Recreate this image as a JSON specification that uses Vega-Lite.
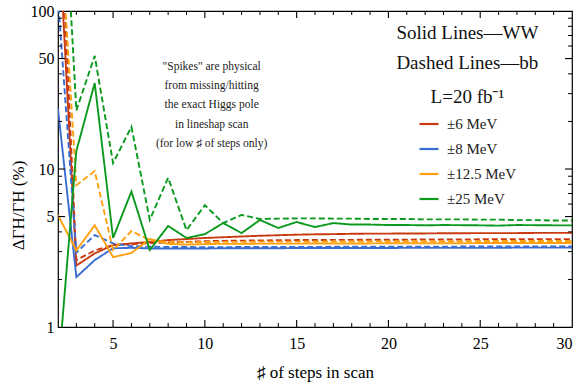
{
  "$schema": "https://vega.github.io/schema/vega-lite/v6.json",
  "width": 514,
  "height": 316,
  "autosize": {"type": "none"},
  "padding": {"left": 58, "top": 11, "right": 9, "bottom": 57},
  "background": "white",
  "config": {
    "view": {"stroke": "black", "strokeWidth": 1.2},
    "font": "Liberation Serif",
    "axis": {"domain": false, "ticks": false, "labelFont": "Liberation Serif", "titleFont": "Liberation Serif", "labelColor": "black", "titleColor": "black", "labelFontSize": 16, "titleFontSize": 17, "titleFontWeight": "normal", "grid": false}
  },
  "datasets": {
    "lines": [
      {"s":2,"p":400,"w":"±6 MeV","c":"WW"},{"s":3,"p":2.45,"w":"±6 MeV","c":"WW"},{"s":4,"p":2.92,"w":"±6 MeV","c":"WW"},{"s":5,"p":3.3,"w":"±6 MeV","c":"WW"},{"s":6,"p":3.38,"w":"±6 MeV","c":"WW"},{"s":7,"p":3.45,"w":"±6 MeV","c":"WW"},{"s":8,"p":3.55,"w":"±6 MeV","c":"WW"},{"s":9,"p":3.6,"w":"±6 MeV","c":"WW"},{"s":10,"p":3.66,"w":"±6 MeV","c":"WW"},{"s":11,"p":3.7,"w":"±6 MeV","c":"WW"},{"s":12,"p":3.74,"w":"±6 MeV","c":"WW"},{"s":13,"p":3.78,"w":"±6 MeV","c":"WW"},{"s":14,"p":3.81,"w":"±6 MeV","c":"WW"},{"s":15,"p":3.84,"w":"±6 MeV","c":"WW"},{"s":16,"p":3.86,"w":"±6 MeV","c":"WW"},{"s":17,"p":3.87,"w":"±6 MeV","c":"WW"},{"s":18,"p":3.89,"w":"±6 MeV","c":"WW"},{"s":19,"p":3.9,"w":"±6 MeV","c":"WW"},{"s":20,"p":3.9,"w":"±6 MeV","c":"WW"},{"s":21,"p":3.91,"w":"±6 MeV","c":"WW"},{"s":22,"p":3.91,"w":"±6 MeV","c":"WW"},{"s":23,"p":3.92,"w":"±6 MeV","c":"WW"},{"s":24,"p":3.92,"w":"±6 MeV","c":"WW"},{"s":25,"p":3.93,"w":"±6 MeV","c":"WW"},{"s":26,"p":3.93,"w":"±6 MeV","c":"WW"},{"s":27,"p":3.93,"w":"±6 MeV","c":"WW"},{"s":28,"p":3.94,"w":"±6 MeV","c":"WW"},{"s":29,"p":3.94,"w":"±6 MeV","c":"WW"},{"s":30,"p":3.94,"w":"±6 MeV","c":"WW"},

      {"s":2,"p":900,"w":"±6 MeV","c":"bb"},{"s":3,"p":2.65,"w":"±6 MeV","c":"bb"},{"s":4,"p":3.05,"w":"±6 MeV","c":"bb"},{"s":5,"p":3.3,"w":"±6 MeV","c":"bb"},{"s":6,"p":3.35,"w":"±6 MeV","c":"bb"},{"s":7,"p":3.4,"w":"±6 MeV","c":"bb"},{"s":8,"p":3.43,"w":"±6 MeV","c":"bb"},{"s":9,"p":3.46,"w":"±6 MeV","c":"bb"},{"s":10,"p":3.49,"w":"±6 MeV","c":"bb"},{"s":11,"p":3.51,"w":"±6 MeV","c":"bb"},{"s":12,"p":3.52,"w":"±6 MeV","c":"bb"},{"s":13,"p":3.53,"w":"±6 MeV","c":"bb"},{"s":14,"p":3.54,"w":"±6 MeV","c":"bb"},{"s":15,"p":3.55,"w":"±6 MeV","c":"bb"},{"s":16,"p":3.55,"w":"±6 MeV","c":"bb"},{"s":17,"p":3.56,"w":"±6 MeV","c":"bb"},{"s":18,"p":3.56,"w":"±6 MeV","c":"bb"},{"s":19,"p":3.57,"w":"±6 MeV","c":"bb"},{"s":20,"p":3.57,"w":"±6 MeV","c":"bb"},{"s":21,"p":3.57,"w":"±6 MeV","c":"bb"},{"s":22,"p":3.58,"w":"±6 MeV","c":"bb"},{"s":23,"p":3.58,"w":"±6 MeV","c":"bb"},{"s":24,"p":3.58,"w":"±6 MeV","c":"bb"},{"s":25,"p":3.59,"w":"±6 MeV","c":"bb"},{"s":26,"p":3.59,"w":"±6 MeV","c":"bb"},{"s":27,"p":3.59,"w":"±6 MeV","c":"bb"},{"s":28,"p":3.6,"w":"±6 MeV","c":"bb"},{"s":29,"p":3.6,"w":"±6 MeV","c":"bb"},{"s":30,"p":3.6,"w":"±6 MeV","c":"bb"},

      {"s":2,"p":24,"w":"±8 MeV","c":"WW"},{"s":3,"p":2.07,"w":"±8 MeV","c":"WW"},{"s":4,"p":2.65,"w":"±8 MeV","c":"WW"},{"s":5,"p":3.15,"w":"±8 MeV","c":"WW"},{"s":6,"p":3.17,"w":"±8 MeV","c":"WW"},{"s":7,"p":3.14,"w":"±8 MeV","c":"WW"},{"s":8,"p":3.14,"w":"±8 MeV","c":"WW"},{"s":9,"p":3.14,"w":"±8 MeV","c":"WW"},{"s":10,"p":3.14,"w":"±8 MeV","c":"WW"},{"s":11,"p":3.15,"w":"±8 MeV","c":"WW"},{"s":12,"p":3.15,"w":"±8 MeV","c":"WW"},{"s":13,"p":3.15,"w":"±8 MeV","c":"WW"},{"s":14,"p":3.15,"w":"±8 MeV","c":"WW"},{"s":15,"p":3.16,"w":"±8 MeV","c":"WW"},{"s":16,"p":3.16,"w":"±8 MeV","c":"WW"},{"s":17,"p":3.16,"w":"±8 MeV","c":"WW"},{"s":18,"p":3.16,"w":"±8 MeV","c":"WW"},{"s":19,"p":3.16,"w":"±8 MeV","c":"WW"},{"s":20,"p":3.16,"w":"±8 MeV","c":"WW"},{"s":21,"p":3.17,"w":"±8 MeV","c":"WW"},{"s":22,"p":3.17,"w":"±8 MeV","c":"WW"},{"s":23,"p":3.17,"w":"±8 MeV","c":"WW"},{"s":24,"p":3.17,"w":"±8 MeV","c":"WW"},{"s":25,"p":3.17,"w":"±8 MeV","c":"WW"},{"s":26,"p":3.17,"w":"±8 MeV","c":"WW"},{"s":27,"p":3.18,"w":"±8 MeV","c":"WW"},{"s":28,"p":3.18,"w":"±8 MeV","c":"WW"},{"s":29,"p":3.18,"w":"±8 MeV","c":"WW"},{"s":30,"p":3.18,"w":"±8 MeV","c":"WW"},

      {"s":2,"p":120,"w":"±8 MeV","c":"bb"},{"s":3,"p":2.95,"w":"±8 MeV","c":"bb"},{"s":4,"p":3.82,"w":"±8 MeV","c":"bb"},{"s":5,"p":3.38,"w":"±8 MeV","c":"bb"},{"s":6,"p":3.25,"w":"±8 MeV","c":"bb"},{"s":7,"p":3.22,"w":"±8 MeV","c":"bb"},{"s":8,"p":3.21,"w":"±8 MeV","c":"bb"},{"s":9,"p":3.21,"w":"±8 MeV","c":"bb"},{"s":10,"p":3.2,"w":"±8 MeV","c":"bb"},{"s":11,"p":3.2,"w":"±8 MeV","c":"bb"},{"s":12,"p":3.21,"w":"±8 MeV","c":"bb"},{"s":13,"p":3.21,"w":"±8 MeV","c":"bb"},{"s":14,"p":3.21,"w":"±8 MeV","c":"bb"},{"s":15,"p":3.21,"w":"±8 MeV","c":"bb"},{"s":16,"p":3.21,"w":"±8 MeV","c":"bb"},{"s":17,"p":3.22,"w":"±8 MeV","c":"bb"},{"s":18,"p":3.22,"w":"±8 MeV","c":"bb"},{"s":19,"p":3.22,"w":"±8 MeV","c":"bb"},{"s":20,"p":3.22,"w":"±8 MeV","c":"bb"},{"s":21,"p":3.22,"w":"±8 MeV","c":"bb"},{"s":22,"p":3.22,"w":"±8 MeV","c":"bb"},{"s":23,"p":3.22,"w":"±8 MeV","c":"bb"},{"s":24,"p":3.23,"w":"±8 MeV","c":"bb"},{"s":25,"p":3.23,"w":"±8 MeV","c":"bb"},{"s":26,"p":3.23,"w":"±8 MeV","c":"bb"},{"s":27,"p":3.23,"w":"±8 MeV","c":"bb"},{"s":28,"p":3.23,"w":"±8 MeV","c":"bb"},{"s":29,"p":3.23,"w":"±8 MeV","c":"bb"},{"s":30,"p":3.23,"w":"±8 MeV","c":"bb"},

      {"s":2,"p":5.1,"w":"±12.5 MeV","c":"WW"},{"s":3,"p":3.05,"w":"±12.5 MeV","c":"WW"},{"s":4,"p":4.4,"w":"±12.5 MeV","c":"WW"},{"s":5,"p":2.77,"w":"±12.5 MeV","c":"WW"},{"s":6,"p":2.94,"w":"±12.5 MeV","c":"WW"},{"s":7,"p":3.6,"w":"±12.5 MeV","c":"WW"},{"s":8,"p":3.36,"w":"±12.5 MeV","c":"WW"},{"s":9,"p":3.32,"w":"±12.5 MeV","c":"WW"},{"s":10,"p":3.35,"w":"±12.5 MeV","c":"WW"},{"s":11,"p":3.36,"w":"±12.5 MeV","c":"WW"},{"s":12,"p":3.36,"w":"±12.5 MeV","c":"WW"},{"s":13,"p":3.37,"w":"±12.5 MeV","c":"WW"},{"s":14,"p":3.37,"w":"±12.5 MeV","c":"WW"},{"s":15,"p":3.37,"w":"±12.5 MeV","c":"WW"},{"s":16,"p":3.38,"w":"±12.5 MeV","c":"WW"},{"s":17,"p":3.38,"w":"±12.5 MeV","c":"WW"},{"s":18,"p":3.38,"w":"±12.5 MeV","c":"WW"},{"s":19,"p":3.38,"w":"±12.5 MeV","c":"WW"},{"s":20,"p":3.39,"w":"±12.5 MeV","c":"WW"},{"s":21,"p":3.39,"w":"±12.5 MeV","c":"WW"},{"s":22,"p":3.39,"w":"±12.5 MeV","c":"WW"},{"s":23,"p":3.39,"w":"±12.5 MeV","c":"WW"},{"s":24,"p":3.39,"w":"±12.5 MeV","c":"WW"},{"s":25,"p":3.4,"w":"±12.5 MeV","c":"WW"},{"s":26,"p":3.4,"w":"±12.5 MeV","c":"WW"},{"s":27,"p":3.4,"w":"±12.5 MeV","c":"WW"},{"s":28,"p":3.4,"w":"±12.5 MeV","c":"WW"},{"s":29,"p":3.4,"w":"±12.5 MeV","c":"WW"},{"s":30,"p":3.4,"w":"±12.5 MeV","c":"WW"},

      {"s":2,"p":600,"w":"±12.5 MeV","c":"bb"},{"s":3,"p":7.9,"w":"±12.5 MeV","c":"bb"},{"s":4,"p":9.7,"w":"±12.5 MeV","c":"bb"},{"s":5,"p":3.07,"w":"±12.5 MeV","c":"bb"},{"s":6,"p":4.05,"w":"±12.5 MeV","c":"bb"},{"s":7,"p":3.55,"w":"±12.5 MeV","c":"bb"},{"s":8,"p":3.45,"w":"±12.5 MeV","c":"bb"},{"s":9,"p":3.44,"w":"±12.5 MeV","c":"bb"},{"s":10,"p":3.45,"w":"±12.5 MeV","c":"bb"},{"s":11,"p":3.46,"w":"±12.5 MeV","c":"bb"},{"s":12,"p":3.46,"w":"±12.5 MeV","c":"bb"},{"s":13,"p":3.47,"w":"±12.5 MeV","c":"bb"},{"s":14,"p":3.47,"w":"±12.5 MeV","c":"bb"},{"s":15,"p":3.47,"w":"±12.5 MeV","c":"bb"},{"s":16,"p":3.48,"w":"±12.5 MeV","c":"bb"},{"s":17,"p":3.48,"w":"±12.5 MeV","c":"bb"},{"s":18,"p":3.48,"w":"±12.5 MeV","c":"bb"},{"s":19,"p":3.48,"w":"±12.5 MeV","c":"bb"},{"s":20,"p":3.49,"w":"±12.5 MeV","c":"bb"},{"s":21,"p":3.49,"w":"±12.5 MeV","c":"bb"},{"s":22,"p":3.49,"w":"±12.5 MeV","c":"bb"},{"s":23,"p":3.49,"w":"±12.5 MeV","c":"bb"},{"s":24,"p":3.49,"w":"±12.5 MeV","c":"bb"},{"s":25,"p":3.5,"w":"±12.5 MeV","c":"bb"},{"s":26,"p":3.5,"w":"±12.5 MeV","c":"bb"},{"s":27,"p":3.5,"w":"±12.5 MeV","c":"bb"},{"s":28,"p":3.5,"w":"±12.5 MeV","c":"bb"},{"s":29,"p":3.5,"w":"±12.5 MeV","c":"bb"},{"s":30,"p":3.5,"w":"±12.5 MeV","c":"bb"},

      {"s":2,"p":0.5,"w":"±25 MeV","c":"WW"},{"s":3,"p":13,"w":"±25 MeV","c":"WW"},{"s":4,"p":35,"w":"±25 MeV","c":"WW"},{"s":5,"p":3.66,"w":"±25 MeV","c":"WW"},{"s":6,"p":7.2,"w":"±25 MeV","c":"WW"},{"s":7,"p":3.07,"w":"±25 MeV","c":"WW"},{"s":8,"p":4.36,"w":"±25 MeV","c":"WW"},{"s":9,"p":3.66,"w":"±25 MeV","c":"WW"},{"s":10,"p":3.87,"w":"±25 MeV","c":"WW"},{"s":11,"p":4.55,"w":"±25 MeV","c":"WW"},{"s":12,"p":3.93,"w":"±25 MeV","c":"WW"},{"s":13,"p":4.76,"w":"±25 MeV","c":"WW"},{"s":14,"p":4.23,"w":"±25 MeV","c":"WW"},{"s":15,"p":4.62,"w":"±25 MeV","c":"WW"},{"s":16,"p":4.29,"w":"±25 MeV","c":"WW"},{"s":17,"p":4.55,"w":"±25 MeV","c":"WW"},{"s":18,"p":4.45,"w":"±25 MeV","c":"WW"},{"s":19,"p":4.45,"w":"±25 MeV","c":"WW"},{"s":20,"p":4.42,"w":"±25 MeV","c":"WW"},{"s":21,"p":4.42,"w":"±25 MeV","c":"WW"},{"s":22,"p":4.4,"w":"±25 MeV","c":"WW"},{"s":23,"p":4.42,"w":"±25 MeV","c":"WW"},{"s":24,"p":4.41,"w":"±25 MeV","c":"WW"},{"s":25,"p":4.4,"w":"±25 MeV","c":"WW"},{"s":26,"p":4.38,"w":"±25 MeV","c":"WW"},{"s":27,"p":4.42,"w":"±25 MeV","c":"WW"},{"s":28,"p":4.41,"w":"±25 MeV","c":"WW"},{"s":29,"p":4.4,"w":"±25 MeV","c":"WW"},{"s":30,"p":4.4,"w":"±25 MeV","c":"WW"},

      {"s":2,"p":3000,"w":"±25 MeV","c":"bb"},{"s":3,"p":23.5,"w":"±25 MeV","c":"bb"},{"s":4,"p":52,"w":"±25 MeV","c":"bb"},{"s":5,"p":10.9,"w":"±25 MeV","c":"bb"},{"s":6,"p":18.5,"w":"±25 MeV","c":"bb"},{"s":7,"p":4.76,"w":"±25 MeV","c":"bb"},{"s":8,"p":8.8,"w":"±25 MeV","c":"bb"},{"s":9,"p":4.1,"w":"±25 MeV","c":"bb"},{"s":10,"p":5.9,"w":"±25 MeV","c":"bb"},{"s":11,"p":4.55,"w":"±25 MeV","c":"bb"},{"s":12,"p":5.12,"w":"±25 MeV","c":"bb"},{"s":13,"p":4.83,"w":"±25 MeV","c":"bb"},{"s":14,"p":4.85,"w":"±25 MeV","c":"bb"},{"s":15,"p":4.87,"w":"±25 MeV","c":"bb"},{"s":16,"p":4.87,"w":"±25 MeV","c":"bb"},{"s":17,"p":4.85,"w":"±25 MeV","c":"bb"},{"s":18,"p":4.85,"w":"±25 MeV","c":"bb"},{"s":19,"p":4.83,"w":"±25 MeV","c":"bb"},{"s":20,"p":4.83,"w":"±25 MeV","c":"bb"},{"s":21,"p":4.83,"w":"±25 MeV","c":"bb"},{"s":22,"p":4.8,"w":"±25 MeV","c":"bb"},{"s":23,"p":4.8,"w":"±25 MeV","c":"bb"},{"s":24,"p":4.8,"w":"±25 MeV","c":"bb"},{"s":25,"p":4.78,"w":"±25 MeV","c":"bb"},{"s":26,"p":4.78,"w":"±25 MeV","c":"bb"},{"s":27,"p":4.75,"w":"±25 MeV","c":"bb"},{"s":28,"p":4.75,"w":"±25 MeV","c":"bb"},{"s":29,"p":4.72,"w":"±25 MeV","c":"bb"},{"s":30,"p":4.72,"w":"±25 MeV","c":"bb"}
    ],
    "xt": [
      {"s":3,"k":"minor"},{"s":4,"k":"minor"},{"s":5,"k":"major"},{"s":6,"k":"minor"},{"s":7,"k":"minor"},{"s":8,"k":"minor"},{"s":9,"k":"minor"},{"s":10,"k":"major"},
      {"s":11,"k":"minor"},{"s":12,"k":"minor"},{"s":13,"k":"minor"},{"s":14,"k":"minor"},{"s":15,"k":"major"},{"s":16,"k":"minor"},{"s":17,"k":"minor"},{"s":18,"k":"minor"},{"s":19,"k":"minor"},{"s":20,"k":"major"},
      {"s":21,"k":"minor"},{"s":22,"k":"minor"},{"s":23,"k":"minor"},{"s":24,"k":"minor"},{"s":25,"k":"major"},{"s":26,"k":"minor"},{"s":27,"k":"minor"},{"s":28,"k":"minor"},{"s":29,"k":"minor"}
    ],
    "yt": [
      {"p":2,"k":"minor"},{"p":3,"k":"minor"},{"p":4,"k":"minor"},{"p":5,"k":"major"},{"p":6,"k":"minor"},{"p":7,"k":"minor"},{"p":8,"k":"minor"},{"p":9,"k":"minor"},{"p":10,"k":"major"},
      {"p":20,"k":"minor"},{"p":30,"k":"minor"},{"p":40,"k":"minor"},{"p":50,"k":"major"},{"p":60,"k":"minor"},{"p":70,"k":"minor"},{"p":80,"k":"minor"},{"p":90,"k":"minor"}
    ],
    "notes": [
      {"s":10.37,"p":44.3,"t":"\"Spikes\" are physical"},
      {"s":10.37,"p":33.4,"t":"from missing/hitting"},
      {"s":10.37,"p":25.4,"t":"the exact Higgs pole"},
      {"s":10.37,"p":19.0,"t":"in lineshap scan"},
      {"s":10.37,"p":14.4,"t":"(for low ♯ of steps only)"}
    ],
    "heads": [
      {"s":24.3,"p":72.6,"t":"Solid Lines—WW"},
      {"s":24.3,"p":46.9,"t":"Dashed Lines—bb"},
      {"s":24.3,"p":28.6,"t":"L=20 fb⁻¹"}
    ]
  },
  "resolve": {"axis": {"x": "independent", "y": "independent"}},
  "layer": [
    {
      "data": {"name": "lines"},
      "mark": {"type": "line", "clip": true, "strokeWidth": 1.9},
      "encoding": {
        "x": {"field": "s", "type": "quantitative", "scale": {"domain": [2, 30], "nice": false, "zero": false},
          "axis": {"orient": "bottom", "title": "♯ of steps in scan", "titlePadding": 13, "values": [5,10,15,20,25,30], "labelPadding": 8}},
        "y": {"field": "p", "type": "quantitative", "scale": {"type": "log", "domain": [1, 100], "nice": false},
          "axis": {"orient": "left", "title": "ΔΓH/ΓH (%)", "titleX": -40, "titleY": 194, "titleAngle": 270, "titleAlign": "center", "titleBaseline": "middle", "format": "d", "values": [1,5,10,50,100], "labelPadding": 4}},
        "color": {"field": "w", "type": "nominal",
          "scale": {"domain": ["±6 MeV", "±8 MeV", "±12.5 MeV", "±25 MeV"], "range": ["#c93a10", "#3a6dd2", "#ffa010", "#0b9a1e"]},
          "legend": {"title": null, "orient": "none", "legendX": 360, "legendY": 102, "symbolType": "stroke", "symbolSize": 361, "symbolStrokeWidth": 2.2, "labelFont": "Liberation Serif", "labelFontSize": 15, "labelColor": "#222", "labelOffset": 7, "rowPadding": 6, "padding": 0}},
        "strokeDash": {"field": "c", "type": "nominal", "scale": {"domain": ["WW", "bb"], "range": [[1, 0], [6, 3]]}, "legend": null}
      }
    },
    {
      "data": {"name": "xt"},
      "transform": [{"filter": "datum.k === 'major'"}],
      "mark": {"type": "tick", "orient": "vertical", "size": 7, "thickness": 1.1, "color": "black", "opacity": 1, "yOffset": -3.5},
      "encoding": {"x": {"field": "s", "type": "quantitative", "axis": null}, "y": {"datum": 1, "type": "quantitative", "axis": null}}
    },
    {
      "data": {"name": "xt"},
      "transform": [{"filter": "datum.k === 'minor'"}],
      "mark": {"type": "tick", "orient": "vertical", "size": 4, "thickness": 1, "color": "black", "opacity": 1, "yOffset": -2},
      "encoding": {"x": {"field": "s", "type": "quantitative", "axis": null}, "y": {"datum": 1, "type": "quantitative", "axis": null}}
    },
    {
      "data": {"name": "xt"},
      "transform": [{"filter": "datum.k === 'major'"}],
      "mark": {"type": "tick", "orient": "vertical", "size": 7, "thickness": 1.1, "color": "black", "opacity": 1, "yOffset": 3.5},
      "encoding": {"x": {"field": "s", "type": "quantitative", "axis": null}, "y": {"datum": 100, "type": "quantitative", "axis": null}}
    },
    {
      "data": {"name": "xt"},
      "transform": [{"filter": "datum.k === 'minor'"}],
      "mark": {"type": "tick", "orient": "vertical", "size": 4, "thickness": 1, "color": "black", "opacity": 1, "yOffset": 2},
      "encoding": {"x": {"field": "s", "type": "quantitative", "axis": null}, "y": {"datum": 100, "type": "quantitative", "axis": null}}
    },
    {
      "data": {"name": "yt"},
      "transform": [{"filter": "datum.k === 'major'"}],
      "mark": {"type": "tick", "orient": "horizontal", "size": 7, "thickness": 1.1, "color": "black", "opacity": 1, "xOffset": 3.5},
      "encoding": {"y": {"field": "p", "type": "quantitative", "axis": null}, "x": {"datum": 2, "type": "quantitative", "axis": null}}
    },
    {
      "data": {"name": "yt"},
      "transform": [{"filter": "datum.k === 'minor'"}],
      "mark": {"type": "tick", "orient": "horizontal", "size": 4, "thickness": 1, "color": "black", "opacity": 1, "xOffset": 2},
      "encoding": {"y": {"field": "p", "type": "quantitative", "axis": null}, "x": {"datum": 2, "type": "quantitative", "axis": null}}
    },
    {
      "data": {"name": "yt"},
      "transform": [{"filter": "datum.k === 'major'"}],
      "mark": {"type": "tick", "orient": "horizontal", "size": 7, "thickness": 1.1, "color": "black", "opacity": 1, "xOffset": -3.5},
      "encoding": {"y": {"field": "p", "type": "quantitative", "axis": null}, "x": {"datum": 30, "type": "quantitative", "axis": null}}
    },
    {
      "data": {"name": "yt"},
      "transform": [{"filter": "datum.k === 'minor'"}],
      "mark": {"type": "tick", "orient": "horizontal", "size": 4, "thickness": 1, "color": "black", "opacity": 1, "xOffset": -2},
      "encoding": {"y": {"field": "p", "type": "quantitative", "axis": null}, "x": {"datum": 30, "type": "quantitative", "axis": null}}
    },
    {
      "data": {"name": "notes"},
      "mark": {"type": "text", "font": "Liberation Serif", "fontSize": 11.5, "align": "center", "baseline": "middle", "color": "#222"},
      "encoding": {"x": {"field": "s", "type": "quantitative", "axis": null}, "y": {"field": "p", "type": "quantitative", "axis": null}, "text": {"field": "t"}}
    },
    {
      "data": {"name": "heads"},
      "mark": {"type": "text", "font": "Liberation Serif", "fontSize": 19, "align": "center", "baseline": "middle", "color": "#111"},
      "encoding": {"x": {"field": "s", "type": "quantitative", "axis": null}, "y": {"field": "p", "type": "quantitative", "axis": null}, "text": {"field": "t"}}
    }
  ]
}
